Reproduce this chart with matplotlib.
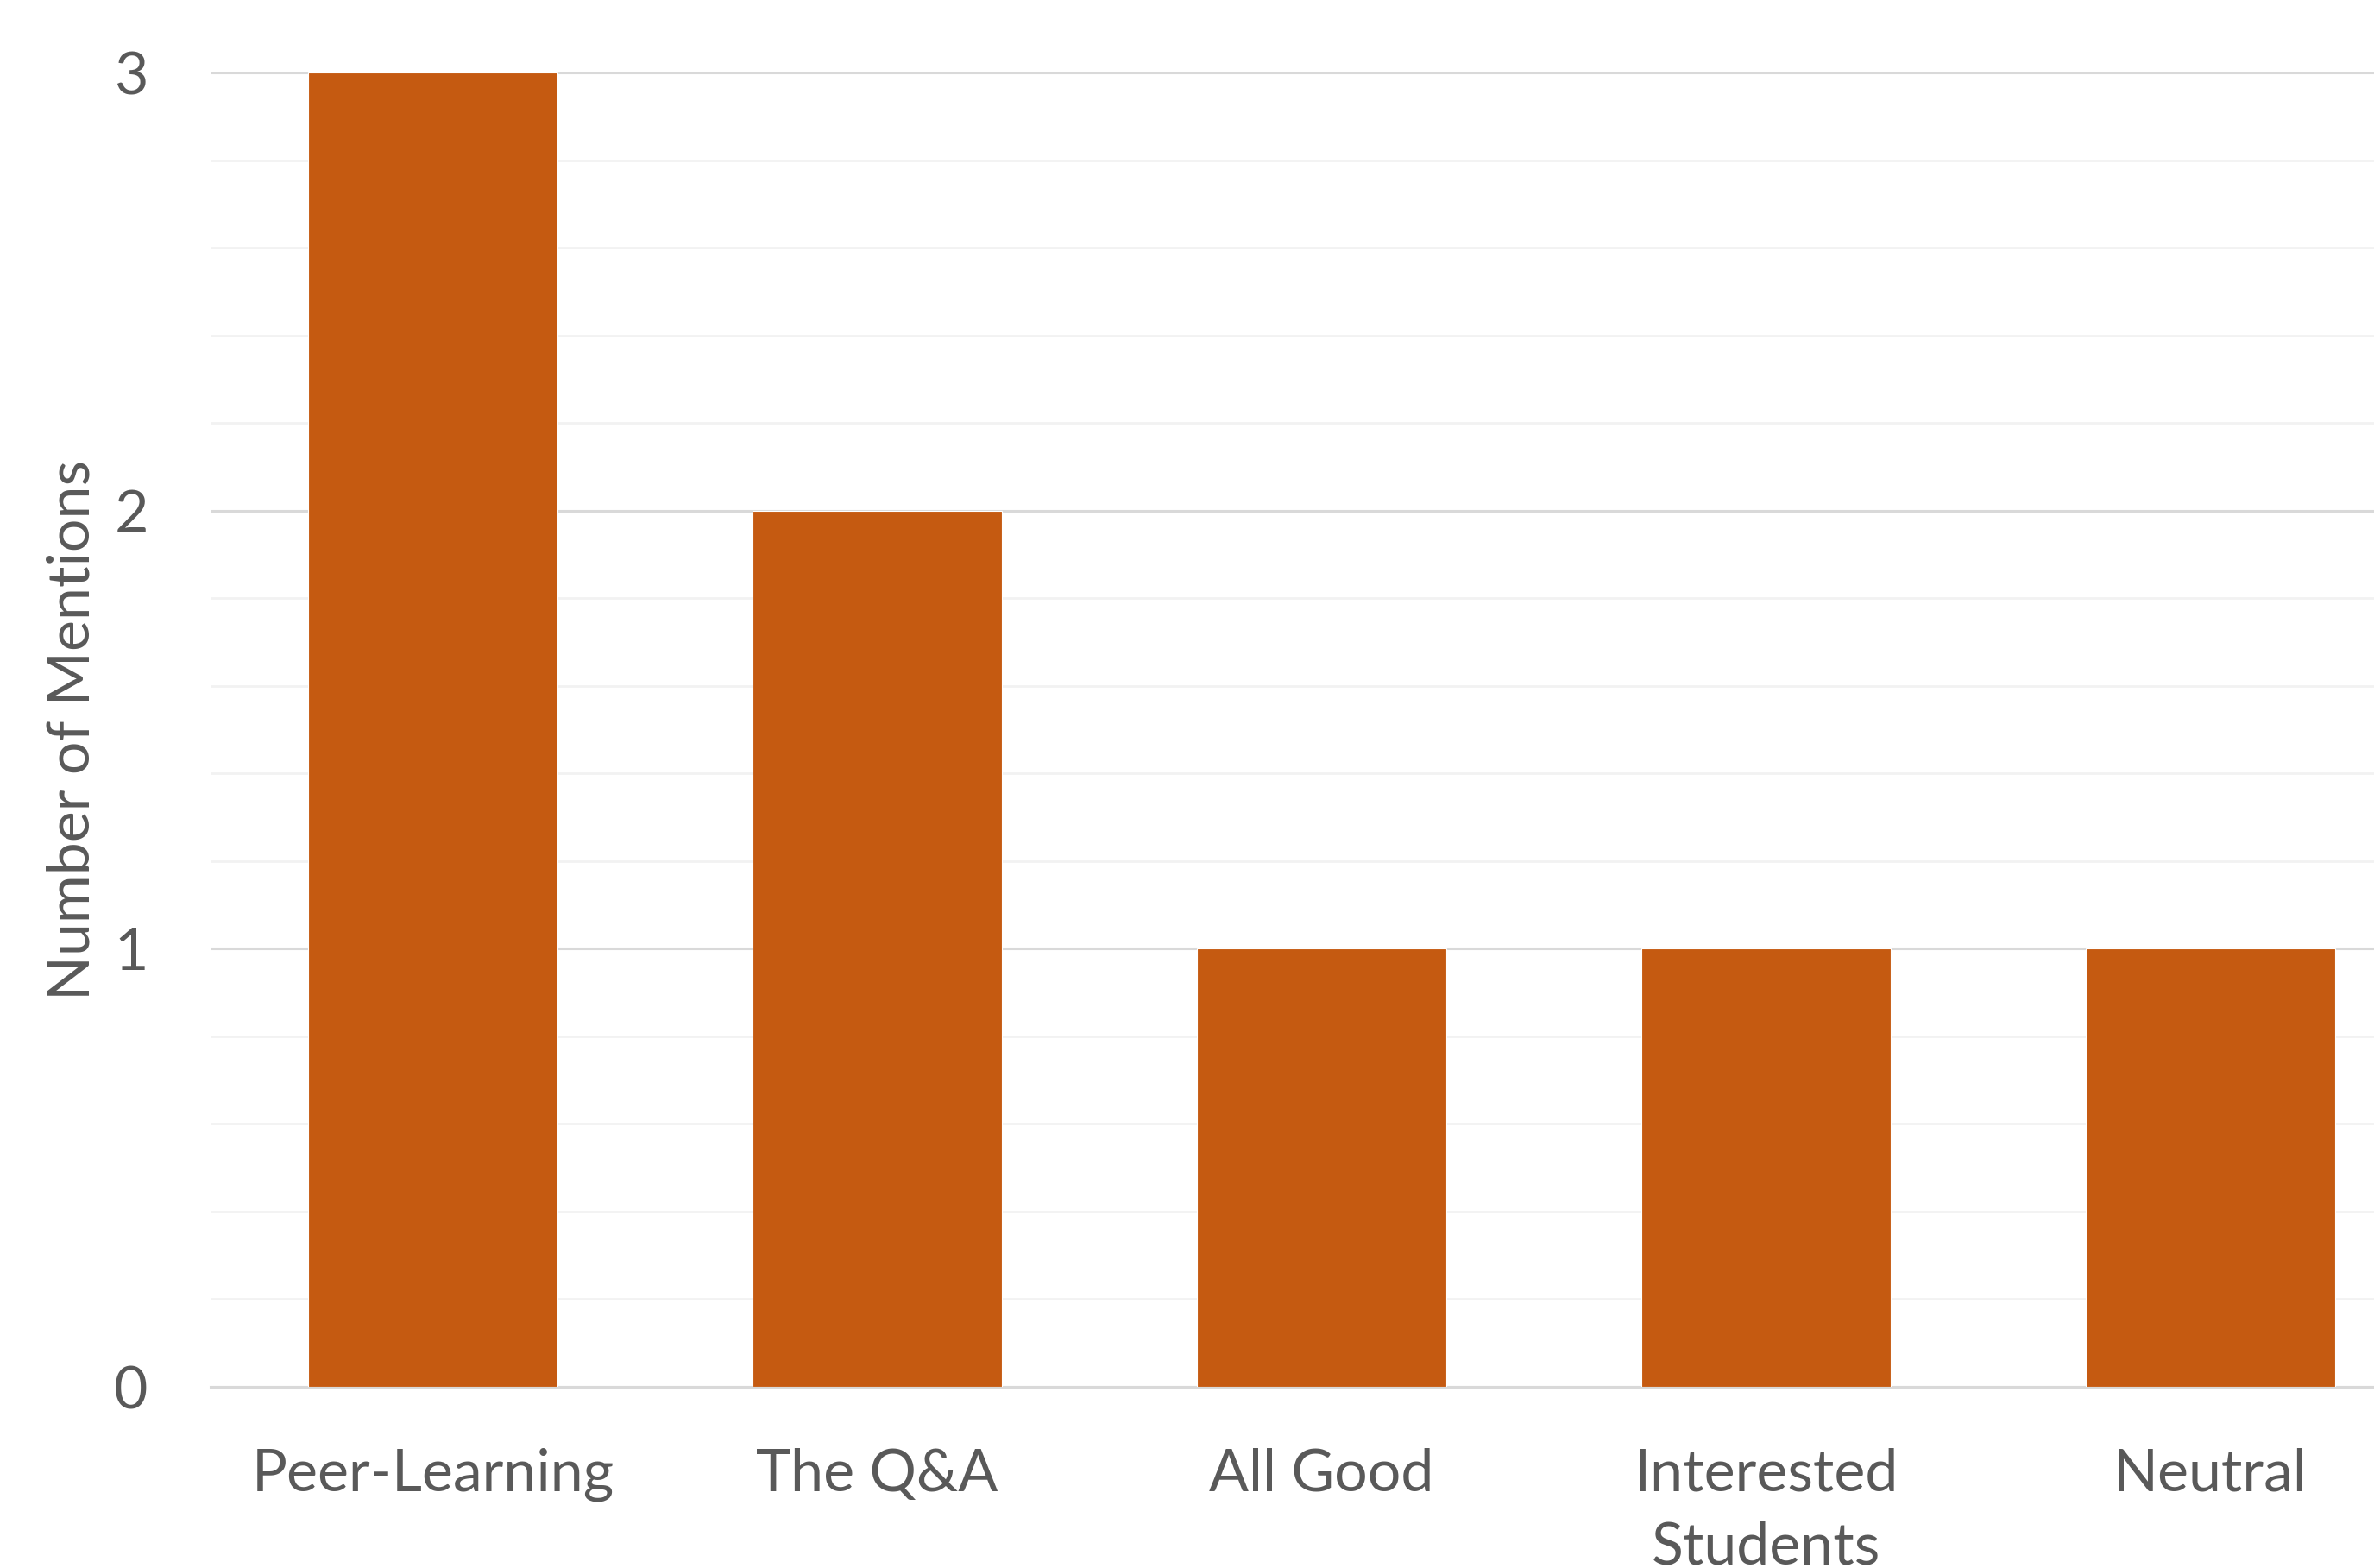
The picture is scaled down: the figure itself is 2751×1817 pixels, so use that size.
import matplotlib
matplotlib.use("Agg")
import matplotlib.pyplot as plt
from matplotlib.ticker import MultipleLocator

categories = ["Peer-Learning", "The Q&A", "All Good", "Interested\nStudents", "Neutral"]
mentions = [3, 2, 1, 1, 1]

BAR = "#C55A11"
TEXT = "#595959"

plt.rcParams["font.family"] = ["Lato", "DejaVu Sans"]

W, H, DPI = 2751, 1817, 100
fig = plt.figure(figsize=(W / DPI, H / DPI), dpi=DPI)

# axes run past the right edge of the canvas
left, bottom = 244 / W, (H - 1607) / H
ax = fig.add_axes([left, bottom, 5 * 515 / W, (1607 - 84) / H])

x = range(len(categories))
ax.bar(x, mentions, width=0.563, color=BAR, edgecolor="white", linewidth=0.8, zorder=3)

ax.set_xlim(-0.5, 4.5)
ax.set_ylim(0, 3)
ax.yaxis.set_major_locator(MultipleLocator(1))
ax.yaxis.set_minor_locator(MultipleLocator(0.2))
ax.yaxis.set_major_formatter(lambda v, pos: f"{v:.0f}")
ax.grid(axis="y", which="major", color="#D9D9D9", lw=2.2, zorder=0)
ax.grid(axis="y", which="minor", color="#F2F2F2", lw=2.0, zorder=0)
ax.set_axisbelow(True)

for s in ["top", "right", "left"]:
    ax.spines[s].set_visible(False)
ax.spines["bottom"].set_color("#D9D9D9")
ax.spines["bottom"].set_linewidth(2.2)

ax.set_xticks(list(x))
ax.set_xticklabels(categories, linespacing=1.45)
ax.tick_params(axis="x", length=0, pad=51, labelsize=49, labelcolor=TEXT)
ax.tick_params(axis="y", which="both", length=0, pad=52, labelsize=49, labelcolor=TEXT)

fig.text(85 / W, 1 - 846 / H, "Number of Mentions", rotation=90,
         ha="center", va="center", fontsize=49, color=TEXT)

fig.savefig("out.png", dpi=DPI, facecolor="white")
